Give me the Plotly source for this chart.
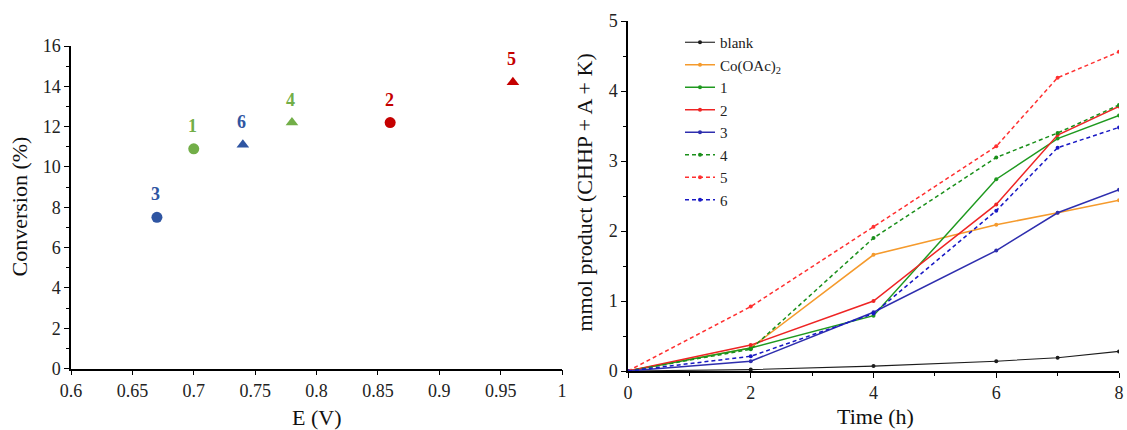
import plotly.graph_objects as go

# ---- Left panel data: conversion vs potential ----
cat_labels = ["3", "1", "6", "4", "2", "5"]
potential_V = [0.67, 0.70, 0.74, 0.78, 0.86, 0.96]
conversion_pct = [7.5, 10.9, 11.1, 12.2, 12.2, 14.2]
cat_colors = ["#2f55a2", "#72ae48", "#2f55a2", "#72ae48", "#c50000", "#c50000"]
cat_symbols = ["circle", "circle", "triangle-up", "triangle-up", "circle", "triangle-up"]

left_xticks = [0.6, 0.65, 0.7, 0.75, 0.8, 0.85, 0.9, 0.95, 1.0]
left_xticklabels = ["0.6", "0.65", "0.7", "0.75", "0.8", "0.85", "0.9", "0.95", "1"]
left_yticks = [0, 2, 4, 6, 8, 10, 12, 14, 16]

# ---- Right panel data: mmol product vs time ----
time_h = [0, 2, 4, 6, 7, 8]
series_names = ["blank", "Co(OAc)<sub>2</sub>", "1", "2", "3", "4", "5", "6"]
series_values = {
    "blank": [0, 0.02, 0.07, 0.14, 0.19, 0.28],
    "Co(OAc)<sub>2</sub>": [0, 0.33, 1.66, 2.09, 2.26, 2.44],
    "1": [0, 0.33, 0.79, 2.74, 3.32, 3.65],
    "2": [0, 0.37, 1.00, 2.38, 3.37, 3.78],
    "3": [0, 0.14, 0.84, 1.72, 2.26, 2.59],
    "4": [0, 0.31, 1.90, 3.05, 3.40, 3.80],
    "5": [0, 0.92, 2.06, 3.21, 4.19, 4.56],
    "6": [0, 0.21, 0.82, 2.29, 3.19, 3.48],
}
series_colors = ["#1c1c1c", "#f59a2c", "#1f991f", "#ee2424", "#2e2eae", "#1a8f1a", "#ff3030", "#1818c4"]
series_dash = ["solid", "solid", "solid", "solid", "solid", "4px,3px", "4px,3px", "4px,3px"]
series_width = [1.1, 1.5, 1.5, 1.5, 1.5, 1.5, 1.5, 1.5]

FONT = "Liberation Serif"

fig = go.Figure()

# left scatter markers
for lab, xv, yv, col, sym in zip(cat_labels, potential_V, conversion_pct, cat_colors, cat_symbols):
    fig.add_trace(go.Scatter(
        x=[xv], y=[yv], mode="markers", xaxis="x", yaxis="y",
        marker=dict(color=col, size=11, symbol=sym),
        showlegend=False, hoverinfo="skip"))
    fig.add_annotation(x=xv, y=yv, xref="x", yref="y", text="<b>%s</b>" % lab,
                       showarrow=False, yshift=23, xshift=-1,
                       font=dict(family=FONT, size=18, color=col))

# right lines
for name, col, dash, w in zip(series_names, series_colors, series_dash, series_width):
    fig.add_trace(go.Scatter(
        x=time_h, y=series_values[name], mode="lines+markers", name=name,
        xaxis="x2", yaxis="y2",
        line=dict(color=col, width=w, dash=dash),
        marker=dict(color=col, size=4),
        hoverinfo="skip"))

axis_common = dict(showgrid=False, zeroline=False, showline=True, linecolor="black",
                   linewidth=1.5, ticks="outside", tickcolor="black", tickwidth=1.2,
                   ticklen=5, tickfont=dict(family=FONT, size=18, color="#222"),
                   automargin=False)

fig.update_layout(
    width=1127, height=430,
    margin=dict(l=0, r=0, t=0, b=0),
    paper_bgcolor="white", plot_bgcolor="white",
    font=dict(family=FONT, color="#222"),
    xaxis=dict(domain=[71/1127, 562/1127], range=[0.6, 1.0], anchor="y",
               tickvals=left_xticks, ticktext=left_xticklabels, **axis_common),
    yaxis=dict(domain=[(430-368.5)/430, (430-46)/430], range=[0, 16], anchor="x",
               tickvals=left_yticks,
               minor=dict(dtick=1, ticks="outside", ticklen=3, tickcolor="black", showgrid=False),
               **axis_common),
    xaxis2=dict(domain=[628/1127, 1119/1127], range=[0, 8], anchor="y2",
                tickvals=[0, 2, 4, 6, 8],
                minor=dict(dtick=1, ticks="outside", ticklen=3, tickcolor="black", showgrid=False),
                **axis_common),
    yaxis2=dict(domain=[(430-371)/430, (430-21)/430], range=[0, 5], anchor="x2",
                tickvals=[0, 1, 2, 3, 4, 5],
                minor=dict(dtick=0.5, ticks="outside", ticklen=3, tickcolor="black", showgrid=False),
                **axis_common),
    legend=dict(x=680/1127, y=1 - 26/430, xanchor="left", yanchor="top",
                bgcolor="rgba(0,0,0,0)", borderwidth=0,
                font=dict(family=FONT, size=15, color="#222")),
)

# axis titles
titles = [
    dict(text="Conversion (%)", x=18.5/1127, y=1 - 207/430, textangle=-90),
    dict(text="E (V)", x=316/1127, y=1 - 417/430, textangle=0),
    dict(text="mmol product (CHHP + A + K)", x=583.5/1127, y=1 - 193/430, textangle=-90),
    dict(text="Time (h)", x=875/1127, y=1 - 416/430, textangle=0),
]
for t in titles:
    fig.add_annotation(text=t["text"], x=t["x"], y=t["y"], xref="paper", yref="paper",
                       xanchor="center", yanchor="middle", textangle=t["textangle"],
                       showarrow=False, font=dict(family=FONT, size=22, color="#111"))

fig.write_html("out.html")
